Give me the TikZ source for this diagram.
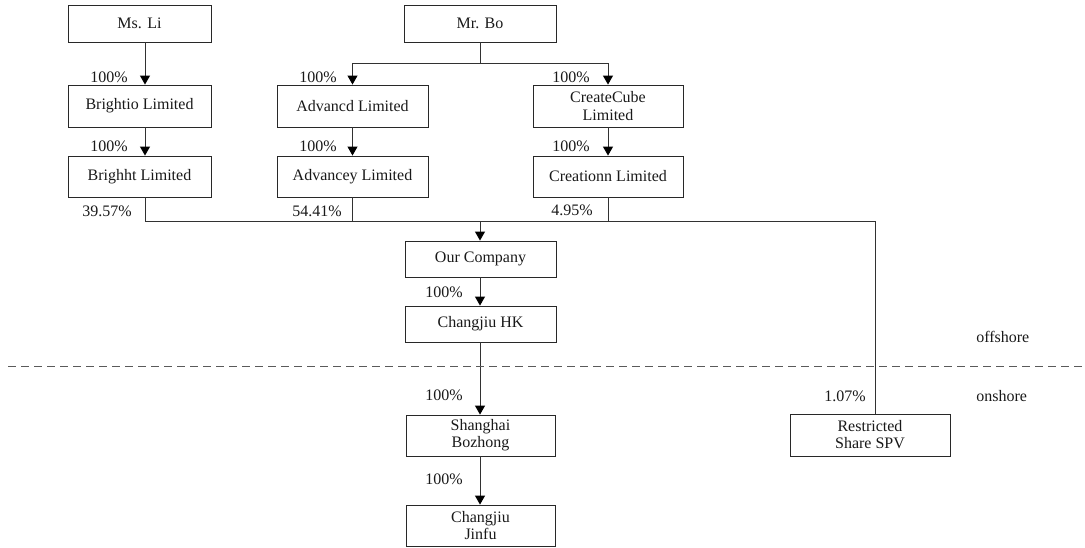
\documentclass[tikz,border=0pt]{standalone}
\usepackage{fontspec}
\setmainfont{Liberation Serif}
\usetikzlibrary{arrows.meta}
\definecolor{lncol}{RGB}{50,50,50}
\definecolor{boxcol}{RGB}{40,40,40}
\definecolor{dashcol}{RGB}{90,90,90}
\definecolor{txtcol}{RGB}{25,25,25}
\begin{document}
\begin{tikzpicture}[x=0.75pt,y=-0.75pt,
  box/.style={draw=boxcol, line width=0.65pt, inner sep=0pt, align=center, text=txtcol, font=\fontsize{12}{12.8}\selectfont},
  bx/.style 2 args={minimum width={#1*0.75pt}, minimum height={#2*0.75pt}},
  ln/.style={draw=lncol, line width=0.75pt},
  arr/.style={ln, -{Triangle[width=7.5pt,length=6.75pt,fill=black,color=black]}},
  lbl/.style={inner sep=0pt, text=txtcol, font=\fontsize{12}{12.8}\selectfont},
  dline/.style={draw=dashcol, line width=0.75pt, dash pattern=on 6pt off 3.75pt}]
\useasboundingbox (0,0) rectangle (1085,547);
\node[box,bx={143}{37}] (msli) at (139.5,23.5) {Ms. Li};
\node[box,bx={152}{37}] (mrbo) at (480,23.5) {Mr. Bo};
\node[box,bx={143}{42}] (brightio) at (139.5,106) {Brightio Limited};
\node[box,bx={151}{42}] (advancd) at (352.5,106) {Advancd Limited};
\node[box,bx={150}{42}] (createcube) at (608,106) {CreateCube\\Limited};
\node[box,bx={143}{41}] (brighht) at (139.5,176.5) {Brighht Limited};
\node[box,bx={151}{41}] (advancey) at (352.5,176.5) {Advancey Limited};
\node[box,bx={150}{41}] (creationn) at (608,176.5) {Creationn Limited};
\node[box,bx={151}{36}] (ourco) at (480.5,259) {Our Company};
\node[box,bx={151}{36}] (hk) at (480.5,324) {Changjiu HK};
\node[box,bx={149}{41}] (shanghai) at (480.5,435.5) {Shanghai\\Bozhong};
\node[box,bx={149}{41}] (jinfu) at (480.5,525.5) {Changjiu\\Jinfu};
\node[box,bx={160}{42}] (spv) at (870,435) {Restricted\\Share SPV};
\coordinate (lx) at (145,221);
\coordinate (bo) at (480,63);
\coordinate (bus) at (480,221);
\coordinate (sx) at (875,221);
\coordinate (dl) at (8,366);
\coordinate (dr) at (1085,366);
\draw[arr] (lx |- msli.south) -- (lx |- brightio.north);
\draw[arr] (lx |- brightio.south) -- (lx |- brighht.north);
\draw[ln] (mrbo.south) -- (bo);
\draw[arr] (bo) -| (advancd.north);
\draw[arr] (bo) -| (createcube.north);
\draw[arr] (advancd.south) -- (advancey.north);
\draw[arr] (createcube.south) -- (creationn.north);
\draw[ln] (lx |- brighht.south) -- (lx) -- (sx) -- (sx |- spv.north);
\draw[ln] (advancey.south) -- (advancey.south |- bus);
\draw[ln] (creationn.south) -- (creationn.south |- bus);
\draw[arr] (bus) -- (bus |- ourco.north);
\draw[arr] (bus |- ourco.south) -- (bus |- hk.north);
\draw[arr] (bus |- hk.south) -- (bus |- shanghai.north);
\draw[arr] (bus |- shanghai.south) -- (bus |- jinfu.north);
\draw[dline] (dl) -- (dr);
\node[lbl,anchor=east] (l1) at (128,77) {100\%};
\node[lbl,anchor=east] (l2) at (337,77) {100\%};
\node[lbl,anchor=east] (l3) at (590,77) {100\%};
\node[lbl,anchor=east] (l4) at (128,146) {100\%};
\node[lbl,anchor=east] (l5) at (337,146) {100\%};
\node[lbl,anchor=east] (l6) at (590,146) {100\%};
\node[lbl,anchor=east] (p1) at (132,211) {39.57\%};
\node[lbl,anchor=east] (p2) at (342,211) {54.41\%};
\node[lbl,anchor=east] (p3) at (593,210) {4.95\%};
\node[lbl,anchor=east] (l7) at (463,292) {100\%};
\node[lbl,anchor=east] (l8) at (463,395) {100\%};
\node[lbl,anchor=east] (l9) at (463,479) {100\%};
\node[lbl,anchor=east] (p4) at (866,396) {1.07\%};
\node[lbl,anchor=west] (off) at (976,337) {offshore};
\node[lbl,anchor=west] (on) at (976,396) {onshore};
\end{tikzpicture}
\end{document}
